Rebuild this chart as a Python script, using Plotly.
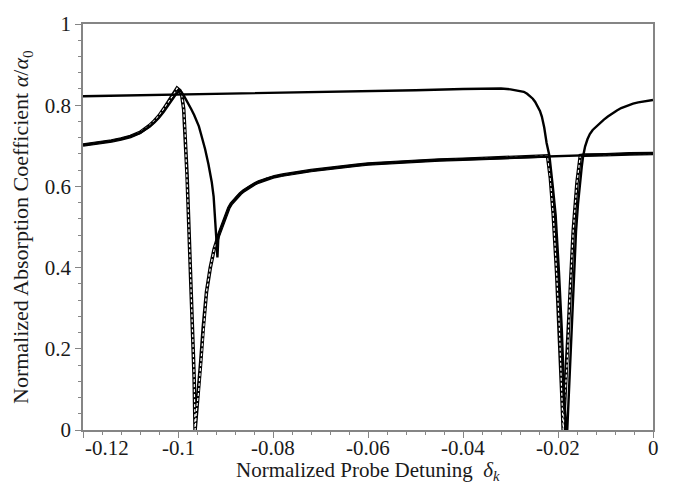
import plotly.graph_objects as go

# Normalized probe detuning (x) and normalized absorption coefficient (y)

# Curve A: nearly flat, sharp hole near -0.018
xa = [-0.12, -0.11, -0.10, -0.09, -0.08, -0.07, -0.06, -0.05, -0.04, -0.035,
      -0.032, -0.030, -0.028, -0.0272, -0.0265, -0.0258, -0.0253, -0.0248,
      -0.0243, -0.0238, -0.0234, -0.0229, -0.0224, -0.0218, -0.0211,
      -0.0205, -0.0198, -0.0192, -0.0187, -0.0183, -0.01805, -0.01775,
      -0.01747, -0.0169, -0.0162, -0.0158, -0.0154, -0.0150, -0.0147,
      -0.0143, -0.0138, -0.0133, -0.0127, -0.0120, -0.0112, -0.0104,
      -0.0095, -0.0086, -0.0076, -0.0067, -0.0058, -0.0050, -0.0042,
      -0.0031, -0.0020, -0.0010, 0.0]
ya = [0.822, 0.824, 0.826, 0.828, 0.830, 0.832, 0.834, 0.837, 0.840, 0.841,
      0.841, 0.839, 0.836, 0.833, 0.828, 0.822, 0.816, 0.808,
      0.797, 0.786, 0.772, 0.745, 0.707, 0.675, 0.600,
      0.530, 0.390, 0.248, 0.088, 0.0, 0.0, 0.08,
      0.168, 0.330, 0.490, 0.555, 0.610, 0.648, 0.675,
      0.698, 0.716, 0.729, 0.739, 0.747, 0.756, 0.764,
      0.772, 0.780, 0.787, 0.793, 0.797, 0.801, 0.804,
      0.807, 0.809, 0.811, 0.813]

# Curve B: peak at -0.1, cusp near -0.092, then slowly rising plateau
xb = [-0.12, -0.118, -0.116, -0.114, -0.112, -0.110, -0.108, -0.107,
      -0.106, -0.105, -0.104, -0.103, -0.102, -0.101, -0.1003, -0.0997,
      -0.0993, -0.0988, -0.0982, -0.0977, -0.0972, -0.0966, -0.0961,
      -0.0956, -0.0952, -0.0947, -0.0943, -0.0936, -0.0929, -0.0925,
      -0.0922, -0.0919, -0.0917, -0.0915, -0.0912, -0.0908, -0.0903,
      -0.0898, -0.0893, -0.0888, -0.0882, -0.0876, -0.0869, -0.0862,
      -0.0855, -0.0848, -0.0839, -0.0830, -0.0821, -0.0813, -0.0797,
      -0.078, -0.0762, -0.0743, -0.072, -0.070, -0.0675, -0.065, -0.0625,
      -0.060, -0.055, -0.050, -0.045, -0.040, -0.035, -0.030, -0.025,
      -0.020, -0.015, -0.010, -0.005, 0.0]
yb = [0.702, 0.705, 0.708, 0.712, 0.717, 0.723, 0.732, 0.739,
      0.747, 0.757, 0.769, 0.784, 0.801, 0.818, 0.829, 0.836,
      0.833, 0.824, 0.812, 0.802, 0.790, 0.776, 0.764,
      0.748, 0.731, 0.712, 0.692, 0.655, 0.611, 0.575,
      0.530, 0.466, 0.425, 0.476, 0.488, 0.500, 0.519,
      0.535, 0.547, 0.557, 0.566, 0.574, 0.582, 0.589,
      0.595, 0.600, 0.606, 0.611, 0.615, 0.619, 0.624,
      0.628, 0.632, 0.635, 0.639, 0.642, 0.646, 0.649, 0.652,
      0.655, 0.659, 0.662, 0.665, 0.667, 0.669, 0.671, 0.673,
      0.675, 0.677, 0.678, 0.680, 0.681]

# Curve C (dashed): follows B, with deep holes near -0.0964 and -0.019
xc = [-0.12, -0.118, -0.116, -0.114, -0.112, -0.110, -0.108, -0.107,
      -0.106, -0.105, -0.104, -0.103, -0.102, -0.101, -0.1002, -0.0996,
      -0.0992, -0.0988, -0.0985, -0.0981, -0.0978, -0.0975, -0.0972,
      -0.0969, -0.0966, -0.0964, -0.0961, -0.0957, -0.0952, -0.0947,
      -0.0940, -0.0932, -0.0924, -0.0915, -0.0908, -0.0903, -0.0898,
      -0.0893, -0.0888, -0.0882, -0.0876, -0.0869, -0.0862, -0.0855,
      -0.0848, -0.0839, -0.0830, -0.0821, -0.0813, -0.0797, -0.078,
      -0.0762, -0.0743, -0.072, -0.070, -0.0675, -0.065, -0.0625, -0.060,
      -0.055, -0.050, -0.045, -0.040, -0.035, -0.030, -0.025, -0.0222,
      -0.0216, -0.0210, -0.0203, -0.0197, -0.0192, -0.0189, -0.01855,
      -0.01807, -0.0175, -0.0168, -0.0160, -0.0153, -0.0145, -0.0130,
      -0.010, -0.005, 0.0]
yc = [0.702, 0.705, 0.708, 0.712, 0.717, 0.723, 0.733, 0.741,
      0.750, 0.761, 0.774, 0.791, 0.808, 0.825, 0.842, 0.836,
      0.824, 0.790, 0.731, 0.630, 0.530, 0.430, 0.330,
      0.228, 0.128, 0.0, 0.050, 0.090, 0.170, 0.250,
      0.340, 0.400, 0.445, 0.478, 0.500, 0.519, 0.535,
      0.547, 0.557, 0.566, 0.574, 0.582, 0.589, 0.595,
      0.600, 0.606, 0.611, 0.615, 0.619, 0.624, 0.628,
      0.632, 0.635, 0.639, 0.642, 0.646, 0.649, 0.652, 0.655,
      0.659, 0.662, 0.665, 0.667, 0.669, 0.671, 0.673, 0.675,
      0.620, 0.530, 0.390, 0.248, 0.088, 0.0, 0.080,
      0.168, 0.330, 0.490, 0.610, 0.676, 0.677, 0.677,
      0.678, 0.680, 0.681]

x_ticks = [-0.12, -0.10, -0.08, -0.06, -0.04, -0.02, 0.0]
x_tick_text = ["-0.12", "-0.1", "-0.08", "-0.06", "-0.04", "-0.02", "0"]
y_ticks = [0, 0.2, 0.4, 0.6, 0.8, 1.0]
y_tick_text = ["0", "0.2", "0.4", "0.6", "0.8", "1"]

SERIF = "Liberation Serif, Times New Roman, serif"
AXIS_GREY = "#858585"
TEXT = "#1a1a1a"

fig = go.Figure()
# dashed curve: black body with white dashes, drawn underneath the solid curves
fig.add_trace(go.Scatter(x=xc, y=yc, mode="lines",
                         line=dict(color="black", width=3.6)))
fig.add_trace(go.Scatter(x=xc, y=yc, mode="lines",
                         line=dict(color="white", width=1.2, dash="3px,2px")))
fig.add_trace(go.Scatter(x=xa, y=ya, mode="lines",
                         line=dict(color="black", width=2.4)))
fig.add_trace(go.Scatter(x=xb, y=yb, mode="lines",
                         line=dict(color="black", width=2.4)))

axis_common = dict(
    showline=True, linecolor=AXIS_GREY, linewidth=1.5, mirror=True,
    showgrid=False, zeroline=False,
    ticks="outside", ticklen=6, tickwidth=1.2, tickcolor=AXIS_GREY,
    tickfont=dict(family=SERIF, size=21, color=TEXT),
)

fig.update_xaxes(range=[-0.12, 0.0], tickmode="array", tickvals=x_ticks,
                 showticklabels=False,
                 minor=dict(dtick=0.004, tick0=0, ticks="outside", ticklen=3.5,
                            tickwidth=1.1, tickcolor=AXIS_GREY),
                 **axis_common)
fig.update_yaxes(range=[0, 1.0], tickmode="array", tickvals=y_ticks,
                 ticktext=y_tick_text,
                 minor=dict(dtick=0.04, tick0=0, ticks="outside", ticklen=3.5,
                            tickwidth=1.1, tickcolor=AXIS_GREY),
                 **axis_common)

# x tick labels; the leftmost one starts at the axis instead of centring on it
for val, label in zip(x_ticks, x_tick_text):
    fig.add_annotation(x=val, xref="x", y=-0.044, yref="paper",
                       text=label, showarrow=False,
                       xanchor="left" if val == x_ticks[0] else "center",
                       yanchor="middle",
                       font=dict(family=SERIF, size=21, color=TEXT))

fig.add_annotation(x=0.5, xref="paper", y=-0.1, yref="paper",
                   text="Normalized Probe Detuning  <i>δ</i><sub><i>k</i></sub>",
                   showarrow=False, xanchor="center", yanchor="middle",
                   font=dict(family=SERIF, size=21, color=TEXT))
fig.add_annotation(x=-0.107, xref="paper", y=0.5, yref="paper",
                   text="Normalized Absorption Coefficient <i>α</i>/<i>α</i><sub>0</sub>",
                   showarrow=False, textangle=-90, xanchor="center",
                   yanchor="middle",
                   font=dict(family=SERIF, size=22, color=TEXT))

fig.update_layout(
    width=676, height=483,
    margin=dict(l=83, r=23, t=15, b=53),
    paper_bgcolor="white", plot_bgcolor="white",
    showlegend=False,
)

fig.write_html("out.html")
